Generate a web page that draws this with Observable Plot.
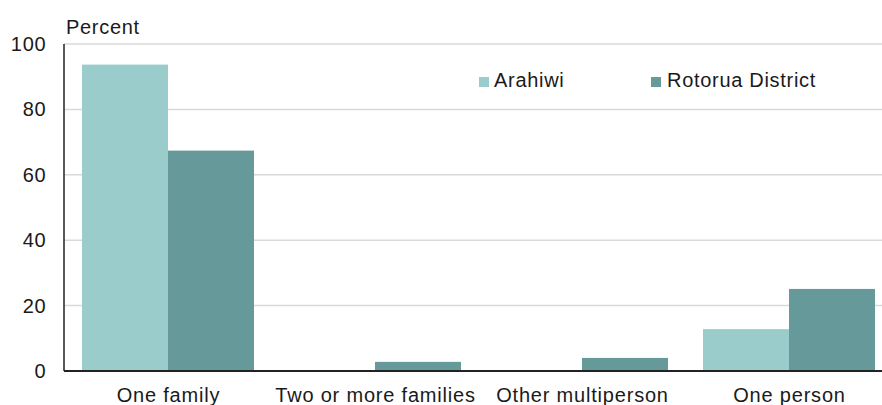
<!DOCTYPE html>
<html>
<head>
<meta charset="utf-8">
<script src="https://cdn.jsdelivr.net/npm/d3@7"></script>
<script src="https://cdn.jsdelivr.net/npm/@observablehq/plot@0.6"></script>
<style>
  html, body { margin: 0; padding: 0; background: #fff; }
  #wrap { position: relative; width: 882px; height: 405px; font-family: "Liberation Sans", Arial, sans-serif; color: #1a1a1a; }
  .lbl { position: absolute; font-size: 20px; line-height: 20px; white-space: nowrap; letter-spacing: 0.7px; }
  .sw { position: absolute; width: 10px; height: 10px; }
  svg text { letter-spacing: 0.8px; }
</style>
</head>
<body>
<div id="wrap"></div>
<script>
const categories = ["One family", "Two or more families", "Other multiperson", "One person"];
const seriesNames = ["Arahiwi", "Rotorua District"];
const arahiwi = [93.7, 0, 0, 12.8];
const rotorua = [67.4, 2.8, 4.0, 25.1];
const colors = ["#9acccc", "#669999"];
const yTicks = [0, 20, 40, 60, 80, 100];

const rows = [];
categories.forEach((c, i) => {
  rows.push({category: c, series: seriesNames[0], value: arahiwi[i]});
  rows.push({category: c, series: seriesNames[1], value: rotorua[i]});
});

const plot = Plot.plot({
  width: 882,
  height: 405,
  marginTop: 44,
  marginBottom: 34,
  marginLeft: 64,
  marginRight: 0,
  style: {fontSize: "20px", fontFamily: "Liberation Sans, Arial, sans-serif", color: "#1a1a1a", background: "#fff"},
  facet: {data: rows, x: "category"},
  fx: {domain: categories, paddingInner: 0.17, paddingOuter: 0.056, align: 0.72, label: null, tickSize: 0, tickPadding: 16},
  x: {domain: seriesNames, padding: 0, axis: null},
  y: {domain: [0, 100], ticks: yTicks, tickSize: 0, tickPadding: 18, label: null},
  color: {domain: seriesNames, range: colors},
  marks: [
    Plot.barY(rows, {x: "series", y: "value", fill: "series"})
  ]
});

const svg = d3.select(plot);
// move the y tick labels away from the axis line
svg.selectAll('g[aria-label="y-axis"], g[aria-label="y-axis tick label"]')
  .attr("transform", function () {
    const t = this.getAttribute("transform") || "";
    return t + " translate(-18,0)";
  });

// full-width gridlines and axis lines drawn through Plot's y scale
const ys = plot.scale("y");
const g = svg.insert("g", ":first-child");
yTicks.filter(t => t > 0).forEach(t => {
  g.append("line").attr("x1", 64).attr("x2", 882)
    .attr("y1", ys.apply(t)).attr("y2", ys.apply(t))
    .attr("stroke", "#d9d9d9").attr("stroke-width", 1.5);
});
svg.append("line").attr("x1", 64).attr("x2", 882)
  .attr("y1", ys.apply(0)).attr("y2", ys.apply(0))
  .attr("stroke", "#222").attr("stroke-width", 2);
svg.append("line").attr("x1", 64).attr("x2", 64)
  .attr("y1", ys.apply(100)).attr("y2", ys.apply(0))
  .attr("stroke", "#222").attr("stroke-width", 1.5);

const wrap = document.getElementById("wrap");
wrap.appendChild(plot);
plot.style.position = "absolute";
plot.style.left = "0";
plot.style.top = "0";

function addLabel(text, x, y) {
  const d = document.createElement("div");
  d.className = "lbl";
  d.textContent = text;
  d.style.left = x + "px";
  d.style.top = y + "px";
  wrap.appendChild(d);
}
function addSwatch(color, x, y) {
  const d = document.createElement("div");
  d.className = "sw";
  d.style.background = color;
  d.style.left = x + "px";
  d.style.top = y + "px";
  wrap.appendChild(d);
}
addLabel("Percent", 66, 17);
addSwatch(colors[0], 479, 77);
addLabel(seriesNames[0], 494, 70);
addSwatch(colors[1], 651, 77);
addLabel(seriesNames[1], 667, 70);
</script>
</body>
</html>
